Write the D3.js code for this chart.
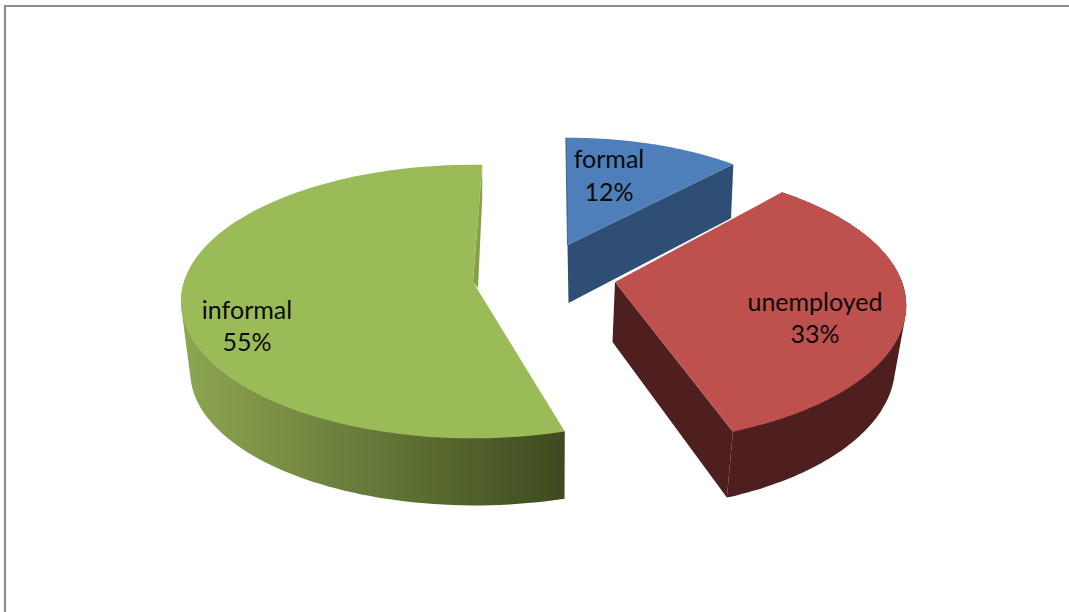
<!DOCTYPE html>
<html><head><meta charset="utf-8">
<script src="https://cdnjs.cloudflare.com/ajax/libs/d3/7.8.5/d3.min.js"></script>
<style>html,body{margin:0;padding:0;background:#fff}svg{display:block}</style></head>
<body><svg id="c" width="1069" height="612"></svg>
<script>
const categories = ["formal", "unemployed", "informal"];
const values = [12, 33, 55];
const labels = ["12%", "33%", "55%"];
const topColors = ["#4e7fbb", "#be504d", "#9bbb59"];
const wallColors = ["#2f4e75", "#4e1f1e", "#86a047"];
const sideStops = [["#2f4e75","#2f4e75"], ["#4e1f1e","#4e1f1e"], ["#8ca551","#3e4a1f"]];

// Layout of each exploded slice: apex, radii, perspective, start angle, lower face
const geom = [
  {ax:567.5, ay:245, rx:262, ry:118, k:.10, rot:-.4,  bx:568.5, by:303, sx:.98, sy:1.05},
  {ax:615,   ay:282, rx:287, ry:134, k:.17, rot:41,   bx:612.5, by:342, sx:.97, sy:1.04},
  {ax:473,   ay:282, rx:289, ry:134, k:.143,rot:164.1,bx:475,   by:353, sx:.975,sy:.975}
];
const labelPos = [[609,168,201],[815,311,343],[247,319,351]];

const svg = d3.select("#c");
const w = +svg.attr("width"), h = +svg.attr("height");
svg.append("path").attr("d", `M5,${h}V6H${w}`).attr("fill","none").attr("stroke","#8c8c8c").attr("stroke-width",2.2);

const arcs = d3.pie().sort(null).startAngle(0).endAngle(2*Math.PI)(values);
const proj = (g, deg, face) => {
  const t = deg*Math.PI/180, u = Math.sin(t), v = -Math.cos(t), d = 1 - g.k*v;
  const X = g.rx*u/d, Y = g.ry*v/d;
  return face ? [g.bx + g.sx*X, g.by + g.sy*Y] : [g.ax + X, g.ay + Y];
};
const line = d3.line();
const defs = svg.append("defs");

// draw order: green behind, then red, then blue
[2,1,0].forEach(i => {
  const g = geom[i], a = arcs[i];
  const span = (a.endAngle - a.startAngle)*180/Math.PI;
  const s = g.rot, e = g.rot + span;
  const sweep = d3.range(0, 121).map(n => s + (e - s)*n/120);
  const id = "side"+i;
  const lg = defs.append("linearGradient").attr("id",id).attr("gradientUnits","userSpaceOnUse")
    .attr("x1",188).attr("x2",565).attr("y1",0).attr("y2",0);
  lg.append("stop").attr("offset",0).attr("stop-color",sideStops[i][0]);
  lg.append("stop").attr("offset",1).attr("stop-color",sideStops[i][1]);

  const topArc = sweep.map(d => proj(g,d,false));
  const lowArc = sweep.map(d => proj(g,d,true));

  if (i === 0) {
    const A = [g.ax,g.ay], R = topArc[120], R2 = lowArc[120], A2 = [g.bx,g.by];
    svg.append("path").attr("d", line([A,R,R2,A2])+"Z").attr("fill",wallColors[i]);
  }
  if (i === 1) {
    const A = [g.ax,g.ay], C = topArc[120], C2 = lowArc[120], A2 = [g.bx,g.by];
    svg.append("path").attr("d", line([A,C,C2,A2])+"Z").attr("fill",wallColors[i]);
    svg.append("path").attr("d", line(d3.polygonHull(topArc.concat(lowArc)))+"Z").attr("fill",wallColors[i]);
  }
  if (i === 2) {
    const vis = sweep.filter(d => d < 300);
    const t2 = vis.map(d => proj(g,d,false)), l2 = vis.map(d => proj(g,d,true));
    svg.append("path").attr("d", line(d3.polygonHull(t2.concat(l2)))+"Z").attr("fill",`url(#${id})`);
    const T = topArc[120], A = [g.ax,g.ay];
    const wall = [T, [T[0], T[1]+32], [A[0]+5, A[1]+6], A];
    svg.append("path").attr("d", line(wall)+"Z").attr("fill",wallColors[i]);
  }
  const poly = [[g.ax,g.ay]].concat(topArc);
  svg.append("path").attr("d", line(poly)+"Z").attr("fill",topColors[i]);
  if (i === 0) {
    svg.append("path").attr("d", line([[g.ax,g.ay],topArc[0]])).attr("stroke",wallColors[i]).attr("stroke-width",.8).attr("fill","none");
  }
});

categories.forEach((c,i) => {
  const p = labelPos[i];
  [[c,p[1]],[labels[i],p[2]]].forEach(([t,y]) => {
    svg.append("text").attr("x",p[0]).attr("y",y).attr("text-anchor","middle")
      .attr("font-family","Lato, 'Open Sans', sans-serif").attr("font-size",25).attr("fill","#0a0a0a").text(t);
  });
});
</script></body></html>
